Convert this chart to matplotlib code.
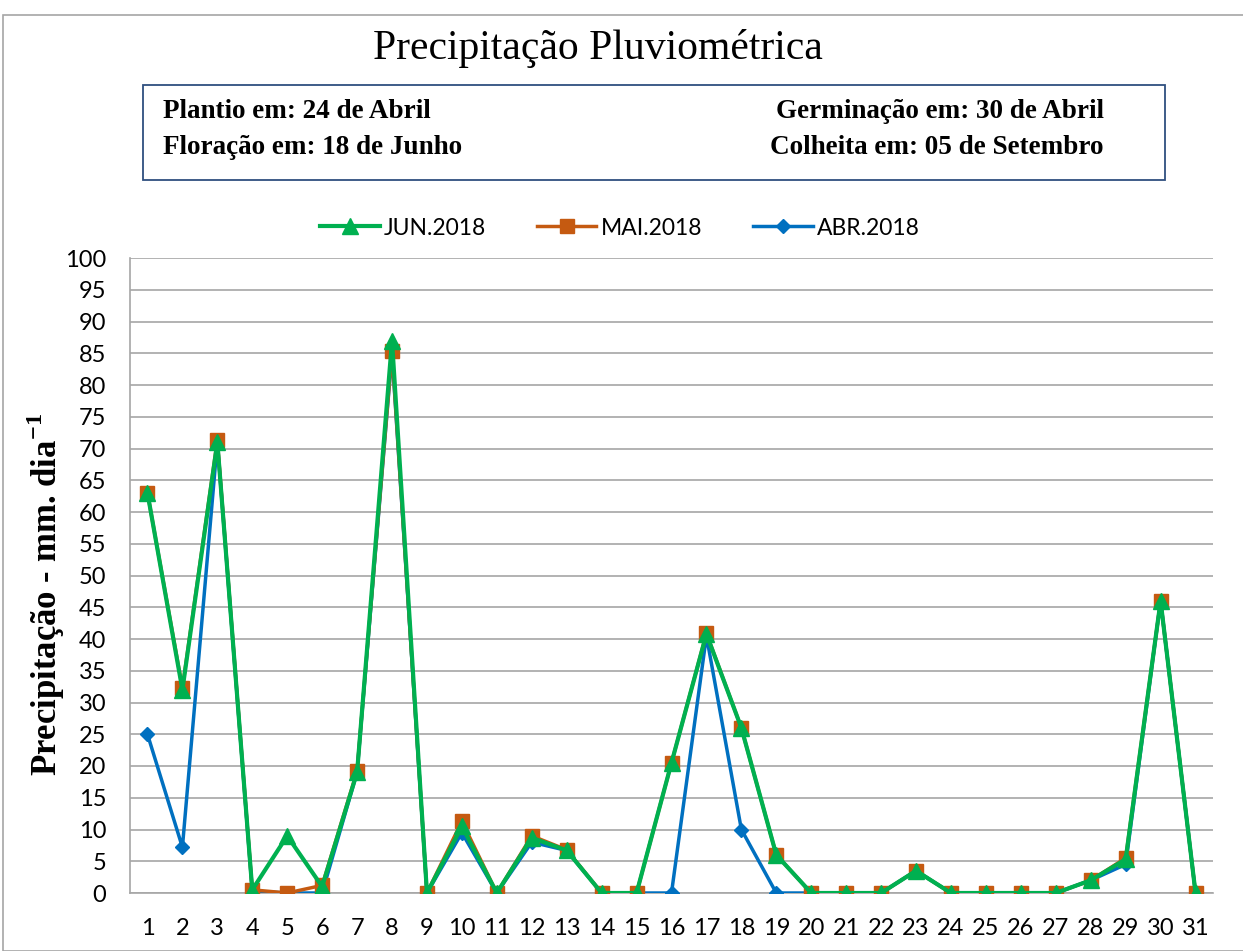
import matplotlib
matplotlib.use("Agg")
import matplotlib.pyplot as plt
from matplotlib.patches import Rectangle

plt.rcParams.update({
    "mathtext.fontset": "custom",
    "mathtext.rm": "Liberation Serif",
    "mathtext.bf": "Liberation Serif:bold",
})

# ============================================================
# Data (mm per day)
# ============================================================

days = list(range(1, 32))

abr_2018 = [25.0, 7.2, 71.0, 0.3, 0.0, 0.0, 19.0, 85.0, 0.0, 9.5,
            0.0, 8.0, 6.7, 0.0, 0.0, 0.0, 40.5, 10.0, 0.0, 0.0,
            0.0, 0.0, 3.5, 0.0, 0.0, 0.0, 0.0, 2.0, 4.5, 46.0, 0.0]

mai_2018 = [63.0, 32.3, 71.3, 0.5, 0.0, 1.2, 19.2, 85.3, 0.0, 11.3,
            0.0, 9.0, 6.8, 0.0, 0.0, 20.5, 40.9, 26.0, 6.0, 0.0,
            0.0, 0.0, 3.5, 0.0, 0.0, 0.0, 0.0, 2.0, 5.5, 46.0, 0.0]

jun_2018 = [63.0, 32.0, 71.0, 0.5, 9.0, 1.0, 19.0, 87.0, 0.0, 10.5,
            0.0, 8.7, 6.7, 0.0, 0.0, 20.5, 40.8, 26.0, 6.0, 0.0,
            0.0, 0.0, 3.5, 0.0, 0.0, 0.0, 0.0, 2.0, 5.3, 46.0, 0.0]

y_ticks = list(range(0, 101, 5))

TITLE = "Precipitação Pluviométrica"
INFO_LEFT = ["Plantio em: 24 de Abril", "Floração em: 18 de Junho"]
INFO_RIGHT = ["Germinação em: 30 de Abril", "Colheita em: 05 de Setembro"]

GREEN = "#00B050"
ORANGE = "#C55A11"
BLUE = "#0070C0"

W, H = 1243, 951

fig = plt.figure(figsize=(W / 100, H / 100), dpi=100)
ax = fig.add_axes([130 / W, 1 - 893 / H, (1213 - 130) / W, (893 - 258) / H])

# outer chart border
fig.patches.append(Rectangle((3 / W, 0), 1.0, 1 - 15 / H, transform=fig.transFigure,
                             fill=False, edgecolor="#A6A6A6", linewidth=1.2))

# ============================================================
# Series
# ============================================================

ax.plot(days, abr_2018, color=BLUE, linewidth=2.5, marker="D", markersize=7.5,
        label="ABR.2018", zorder=3)
ax.plot(days, mai_2018, color=ORANGE, linewidth=2.5, marker="s", markersize=10,
        label="MAI.2018", zorder=4)
ax.plot(days, jun_2018, color=GREEN, linewidth=3.0, marker="^", markersize=11,
        label="JUN.2018", zorder=5)

ax.set_xlim(0.5, 31.5)
ax.set_ylim(0, 100)
ax.set_xticks(days)
ax.set_yticks(y_ticks)
ax.tick_params(axis="both", length=0, labelsize=17)
ax.tick_params(axis="y", pad=17)
ax.tick_params(axis="x", pad=18)
for lab in ax.get_xticklabels() + ax.get_yticklabels():
    lab.set_fontfamily("Lato")

ax.grid(axis="y", color="#A6A6A6", linewidth=1.2)
ax.set_axisbelow(True)
for side in ["top", "right"]:
    ax.spines[side].set_visible(False)
for side in ["left", "bottom"]:
    ax.spines[side].set_color("#A6A6A6")
    ax.spines[side].set_linewidth(1.2)

ax.set_ylabel("Precipitação - mm. dia$^{\\mathbf{-1}}$", fontfamily="Liberation Serif",
              fontweight="bold", fontsize=25)
ax.yaxis.set_label_coords(-0.058, 0.47)

handles, labels = ax.get_legend_handles_labels()
order = [2, 1, 0]
fig.legend([handles[i] for i in order], [labels[i] for i in order],
           loc="center", bbox_to_anchor=(620 / W, 1 - 228 / H), ncol=3,
           frameon=False, prop={"family": "Lato", "size": 16.5},
           handlelength=2.6, columnspacing=2.2, handletextpad=0.2)

# ============================================================
# Title and info box
# ============================================================

fig.text(598 / W, 1 - 49 / H, TITLE, ha="center", va="center",
         fontfamily="Liberation Serif", fontsize=30)

fig.patches.append(Rectangle((143 / W, 1 - 180 / H), (1165 - 143) / W, (180 - 85) / H,
                             transform=fig.transFigure, fill=False,
                             edgecolor="#2F4F7F", linewidth=1.3))
for i, (lt, rt) in enumerate(zip(INFO_LEFT, INFO_RIGHT)):
    yy = 1 - (112 + 36 * i) / H
    fig.text(163 / W, yy, lt, ha="left", va="center", fontfamily="Liberation Serif",
             fontweight="bold", fontsize=19.5)
    fig.text(1104 / W, yy, rt, ha="right", va="center", fontfamily="Liberation Serif",
             fontweight="bold", fontsize=19.5)

fig.savefig("out.png", dpi=100)
